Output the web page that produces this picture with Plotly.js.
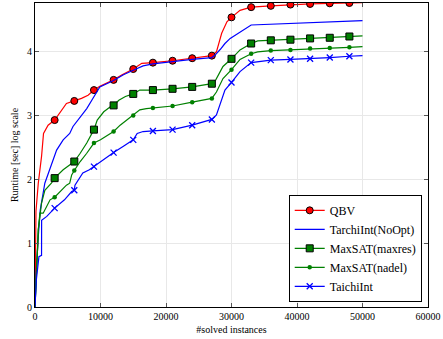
<!DOCTYPE html>
<html>
<head>
<meta charset="utf-8">
<script src="https://cdn.plot.ly/plotly-3.0.1.min.js"></script>
<style>html,body{margin:0;padding:0;background:#fff;}#chart{width:443px;height:339px;}</style>
</head>
<body>
<div id="chart"></div>
<script>
// ---- data ----
const seriesNames = ["QBV", "TarchiInt(NoOpt)", "MaxSAT(maxres)", "MaxSAT(nadel)", "TaichiInt"];

const markerX = [3000, 6000, 9000, 12000, 15000, 18000, 21000, 24000, 27000, 30000, 33000, 36000, 39000, 42000, 45000, 48000];

const qbvX = [0, 50, 150, 500, 1000, 1300, 2000, 3000, 4100, 4800, 6000, 7100, 8100, 9000, 9900, 10900, 12000, 13300, 15000, 16300, 18000, 21000, 24000, 27000, 27700, 28500, 29300, 30000, 31300, 33000, 36000, 39000, 42000, 45000, 48000, 50000];
const qbvY = [0, 0.8, 1.5, 1.94, 2.36, 2.72, 2.85, 2.93, 3.09, 3.19, 3.23, 3.27, 3.32, 3.40, 3.46, 3.51, 3.56, 3.64, 3.73, 3.82, 3.83, 3.86, 3.90, 3.94, 4.00, 4.29, 4.47, 4.54, 4.65, 4.70, 4.72, 4.74, 4.75, 4.76, 4.765, 4.77];
const qbvMarkY = [2.93, 3.23, 3.40, 3.56, 3.73, 3.83, 3.86, 3.90, 3.94, 4.54, 4.70, 4.72, 4.74, 4.75, 4.76, 4.765];

const noOptX = [0, 200, 500, 800, 1500, 2300, 3300, 4300, 5300, 5800, 6900, 7900, 8900, 9900, 12000, 13500, 15000, 16500, 18000, 21000, 24000, 27000, 27600, 28300, 29000, 29800, 31300, 33000, 50000];
const noOptY = [0, 0.58, 1.1, 1.52, 1.94, 2.18, 2.46, 2.62, 2.72, 2.83, 2.98, 3.11, 3.28, 3.45, 3.55, 3.64, 3.71, 3.78, 3.81, 3.85, 3.88, 3.91, 3.96, 4.04, 4.13, 4.21, 4.31, 4.42, 4.49];

const maxresX = [0, 150, 400, 500, 750, 1000, 1500, 2500, 3000, 4300, 5600, 6000, 6900, 7900, 9000, 9500, 10500, 11500, 12000, 12800, 13800, 15000, 16000, 18000, 21000, 24000, 27000, 27600, 28700, 30000, 31300, 33000, 34000, 36000, 39000, 42000, 45000, 48000, 50000];
const maxresY = [0, 0.47, 0.95, 1.21, 1.47, 1.63, 1.83, 1.94, 2.02, 2.15, 2.25, 2.28, 2.41, 2.57, 2.78, 2.93, 3.06, 3.14, 3.16, 3.24, 3.30, 3.34, 3.40, 3.40, 3.42, 3.45, 3.50, 3.56, 3.77, 3.89, 4.03, 4.13, 4.17, 4.18, 4.19, 4.21, 4.22, 4.24, 4.25];
const maxresMarkY = [2.02, 2.28, 2.78, 3.16, 3.34, 3.40, 3.42, 3.45, 3.50, 3.89, 4.13, 4.18, 4.19, 4.21, 4.22, 4.24];

const nadelX = [0, 150, 400, 500, 750, 1250, 2300, 3000, 4800, 5300, 5600, 6000, 6900, 7900, 9000, 10000, 12000, 13000, 14000, 15000, 16000, 17000, 18000, 21000, 24000, 27000, 27700, 28700, 30000, 31300, 33000, 34000, 36000, 39000, 42000, 45000, 48000, 50000];
const nadelY = [0, 0.47, 0.95, 1.21, 1.47, 1.47, 1.68, 1.72, 1.91, 1.94, 2.07, 2.14, 2.28, 2.41, 2.57, 2.62, 2.75, 2.85, 2.93, 3.00, 3.09, 3.11, 3.12, 3.15, 3.21, 3.27, 3.37, 3.58, 3.72, 3.88, 3.97, 4.00, 4.02, 4.03, 4.05, 4.06, 4.07, 4.08];
const nadelMarkY = [1.72, 2.14, 2.57, 2.75, 3.00, 3.12, 3.15, 3.21, 3.27, 3.72, 3.97, 4.02, 4.03, 4.05, 4.06, 4.07];

const taichiX = [0, 200, 600, 1000, 1010, 1800, 3000, 4500, 5600, 6000, 6100, 7300, 8300, 9000, 10500, 12000, 13500, 15000, 15600, 16500, 18000, 21000, 24000, 27000, 27700, 28300, 29000, 30000, 31300, 33000, 34000, 36000, 39000, 42000, 45000, 48000, 50000];
const taichiY = [0, 0.42, 0.79, 0.81, 1.36, 1.42, 1.55, 1.68, 1.81, 1.83, 1.91, 2.10, 2.15, 2.20, 2.32, 2.42, 2.52, 2.62, 2.72, 2.75, 2.76, 2.78, 2.85, 2.94, 3.01, 3.19, 3.40, 3.52, 3.69, 3.83, 3.84, 3.87, 3.88, 3.89, 3.91, 3.93, 3.94];
const taichiMarkY = [1.55, 1.83, 2.20, 2.42, 2.62, 2.76, 2.78, 2.85, 2.94, 3.52, 3.83, 3.87, 3.88, 3.89, 3.91, 3.93];

const xTickVals = [0, 10000, 20000, 30000, 40000, 50000, 60000];
const xTickText = ["0", "10000", "20000", "30000", "40000", "50000", "60000"];
const yTickVals = [0, 1, 2, 3, 4];

// ---- styles ----
const RED = "#ff0000", BLUE = "#0000ff", GREEN = "#008000";
const LW = 1.2;
const mk = {
  qbv: {symbol: "circle", size: 7, color: RED, line: {color: "#000", width: 1}},
  maxres: {symbol: "square", size: 7, color: GREEN, line: {color: "#000", width: 1}},
  nadel: {symbol: "circle", size: 4.5, color: GREEN, line: {color: GREEN, width: 0}},
  taichi: {symbol: "x-thin-open", size: 6, color: BLUE, line: {color: BLUE, width: 1.3}}
};

function lineTrace(x, y, color) {
  return {x: x, y: y, type: "scatter", mode: "lines", line: {color: color, width: LW}, showlegend: false, hoverinfo: "skip"};
}
function markTrace(y, marker) {
  return {x: markerX, y: y, type: "scatter", mode: "markers", marker: marker, showlegend: false, hoverinfo: "skip"};
}
function legendTrace(name, color, marker) {
  const t = {x: [null], y: [null], type: "scatter", name: name, mode: marker ? "lines+markers" : "lines", line: {color: color, width: LW}};
  if (marker) t.marker = marker;
  return t;
}

const data = [
  lineTrace(qbvX, qbvY, RED), markTrace(qbvMarkY, mk.qbv),
  lineTrace(noOptX, noOptY, BLUE),
  lineTrace(maxresX, maxresY, GREEN), markTrace(maxresMarkY, mk.maxres),
  lineTrace(nadelX, nadelY, GREEN), markTrace(nadelMarkY, mk.nadel),
  lineTrace(taichiX, taichiY, BLUE), markTrace(taichiMarkY, mk.taichi),
  legendTrace(seriesNames[0], RED, mk.qbv),
  legendTrace(seriesNames[1], BLUE, null),
  legendTrace(seriesNames[2], GREEN, mk.maxres),
  legendTrace(seriesNames[3], GREEN, mk.nadel),
  legendTrace(seriesNames[4], BLUE, mk.taichi)
];

const FONT = "Liberation Serif, Times New Roman, serif";
const layout = {
  width: 443, height: 339,
  margin: {l: 35, r: 15, t: 3, b: 32},
  paper_bgcolor: "#fff", plot_bgcolor: "#fff",
  font: {family: FONT, size: 10, color: "#000"},
  showlegend: true,
  legend: {
    x: 0.984, y: 0.017, xanchor: "right", yanchor: "bottom",
    bgcolor: "#fff", bordercolor: "#000", borderwidth: 1,
    font: {family: FONT, size: 12, color: "#000"},
    tracegroupgap: 0
  },
  xaxis: {
    range: [0, 60000], tickvals: xTickVals, ticktext: xTickText,
    showgrid: true, gridcolor: "#e8e8e8", gridwidth: 1, zeroline: false,
    showline: true, linecolor: "#000", linewidth: 1, mirror: "ticks",
    ticks: "inside", ticklen: 4, tickcolor: "#555", tickwidth: 1,
    tickfont: {family: FONT, size: 10},
    title: {text: "#solved instances", font: {family: FONT, size: 10}, standoff: 4}
  },
  yaxis: {
    range: [0, 4.765], tickvals: yTickVals,
    showgrid: true, gridcolor: "#e8e8e8", gridwidth: 1, zeroline: false,
    showline: true, linecolor: "#000", linewidth: 1, mirror: "ticks",
    ticks: "inside", ticklen: 4, tickcolor: "#555", tickwidth: 1,
    tickfont: {family: FONT, size: 10},
    title: {text: "Runtime [sec] log scale", font: {family: FONT, size: 10}, standoff: 6}
  }
};

Plotly.newPlot("chart", data, layout, {displayModeBar: false, staticPlot: true});
</script>
</body>
</html>
